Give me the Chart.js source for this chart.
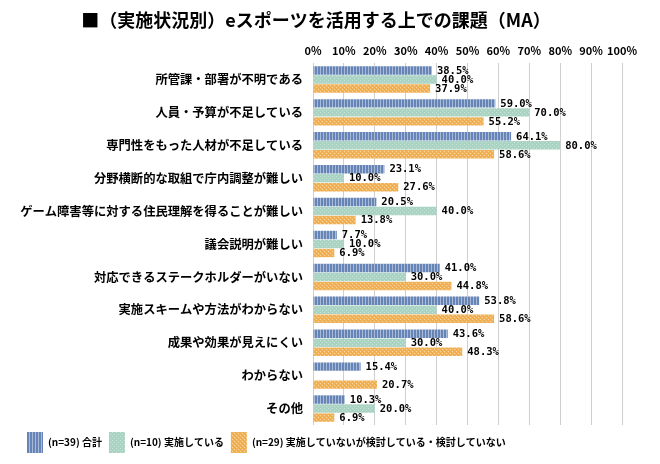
<!DOCTYPE html>
<html>
<head>
<meta charset="utf-8">
<script src="https://cdn.jsdelivr.net/npm/chart.js@4/dist/chart.umd.min.js"></script>
<style>
html,body{margin:0;padding:0;background:#fff;}
#wrap{width:660px;height:464px;position:relative;}
</style>
</head>
<body>
<div id="wrap"><canvas id="c" width="660" height="464"></canvas></div>
<script>
const titleText = '■（実施状況別）eスポーツを活用する上での課題（MA）';
const categories = [
  '所管課・部署が不明である',
  '人員・予算が不足している',
  '専門性をもった人材が不足している',
  '分野横断的な取組で庁内調整が難しい',
  'ゲーム障害等に対する住民理解を得ることが難しい',
  '議会説明が難しい',
  '対応できるステークホルダーがいない',
  '実施スキームや方法がわからない',
  '成果や効果が見えにくい',
  'わからない',
  'その他'
];
const seriesNames = ['(n=39) 合計', '(n=10) 実施している', '(n=29) 実施していないが検討している・検討していない'];
const totalValues = [38.5, 59.0, 64.1, 23.1, 20.5, 7.7, 41.0, 53.8, 43.6, 15.4, 10.3];
const implementingValues = [40.0, 70.0, 80.0, 10.0, 40.0, 10.0, 30.0, 40.0, 30.0, null, 20.0];
const notImplementingValues = [37.9, 55.2, 58.6, 27.6, 13.8, 6.9, 44.8, 58.6, 48.3, 20.7, 6.9];
const xTicks = [0, 10, 20, 30, 40, 50, 60, 70, 80, 90, 100];

function makePattern(type) {
  const p = document.createElement('canvas');
  const ctx = p.getContext('2d');
  if (type === 'blue') {
    p.width = 3; p.height = 4;
    ctx.fillStyle = '#6684b6'; ctx.fillRect(0, 0, 3, 4);
    ctx.fillStyle = '#a9bad7'; ctx.fillRect(2, 0, 1, 4);
  } else if (type === 'green') {
    p.width = 4; p.height = 4;
    ctx.fillStyle = '#a9d3c2'; ctx.fillRect(0, 0, 4, 4);
    ctx.fillStyle = '#c8e3d7';
    ctx.fillRect(0, 0, 1, 1); ctx.fillRect(2, 2, 1, 1);
  } else {
    p.width = 4; p.height = 4;
    ctx.fillStyle = '#f2b45a'; ctx.fillRect(0, 0, 4, 4);
    ctx.fillStyle = '#f8d39a';
    for (let i = 0; i < 4; i++) ctx.fillRect(i, (3 - i + 4) % 4, 1, 1);
    ctx.fillStyle = '#eeaa4c';
    for (let i = 0; i < 4; i++) ctx.fillRect(i, (i + 1) % 4, 1, 1);
  }
  return document.getElementById('c').getContext('2d').createPattern(p, 'repeat');
}

const blueP = makePattern('blue');
const greenP = makePattern('green');
const orangeP = makePattern('orange');

const labelFont = 'bold 10.5px "DejaVu Sans Mono", monospace';

const titlePlugin = {
  id: 'customTitle',
  afterDraw(chart) {
    const ctx = chart.ctx;
    ctx.save();
    ctx.font = 'bold 18px "Noto Sans CJK JP", sans-serif';
    ctx.fillStyle = '#000';
    ctx.textAlign = 'center';
    ctx.textBaseline = 'middle';
    ctx.fillText(titleText, 316, 20);
    ctx.restore();
  }
};

const valueLabelPlugin = {
  id: 'valueLabels',
  afterDatasetsDraw(chart) {
    const ctx = chart.ctx;
    ctx.save();
    ctx.font = labelFont;
    ctx.fillStyle = '#000';
    ctx.textAlign = 'left';
    ctx.textBaseline = 'middle';
    chart.data.datasets.forEach((ds, di) => {
      const meta = chart.getDatasetMeta(di);
      meta.data.forEach((el, i) => {
        const v = ds.data[i];
        if (v === null || v === undefined) return;
        ctx.fillText(v.toFixed(1) + '%', el.x + 5, el.y + 0.5);
      });
    });
    ctx.restore();
  }
};

new Chart(document.getElementById('c'), {
  type: 'bar',
  data: {
    labels: categories,
    datasets: [
      { label: seriesNames[0], data: totalValues, backgroundColor: blueP, borderWidth: 0 },
      { label: seriesNames[1], data: implementingValues, backgroundColor: greenP, borderWidth: 0 },
      { label: seriesNames[2], data: notImplementingValues, backgroundColor: orangeP, borderWidth: 0 }
    ]
  },
  options: {
    indexAxis: 'y',
    responsive: false,
    animation: false,
    devicePixelRatio: 1,
    layout: { padding: { top: 33, left: 20, right: 38, bottom: 1 } },
    datasets: { bar: { categoryPercentage: 0.82, barPercentage: 0.94 } },
    scales: {
      x: {
        position: 'top',
        min: 0, max: 100,
        afterBuildTicks(scale) { scale.ticks = xTicks.map(v => ({ value: v })); },
        afterFit(scale) { scale.height = 30; },
        ticks: {
          callback: v => v + '%',
          color: '#000',
          autoSkip: false,
          font: { family: '"Noto Sans CJK JP", sans-serif', size: 11, weight: 'bold' },
          padding: 6,
          maxRotation: 0
        },
        grid: { color: '#cfcfcf', drawTicks: false, lineWidth: 1 },
        border: { display: false }
      },
      y: {
        afterFit(scale) { scale.width = 293; },
        ticks: {
          color: '#000',
          font: { family: '"Noto Sans CJK JP", sans-serif', size: 12.3, weight: 'bold' },
          padding: 10
        },
        grid: { display: false, drawTicks: false },
        border: { display: false }
      }
    },
    plugins: {
      title: { display: false },
      tooltip: { enabled: false },
      legend: {
        position: 'bottom',
        align: 'start',
        labels: {
          boxWidth: 16,
          boxHeight: 21,
          padding: 7,
          color: '#000',
          font: { family: '"Noto Sans CJK JP", sans-serif', size: 10, weight: 'bold' }
        }
      }
    }
  },
  plugins: [titlePlugin, valueLabelPlugin]
});
</script>
</body>
</html>
